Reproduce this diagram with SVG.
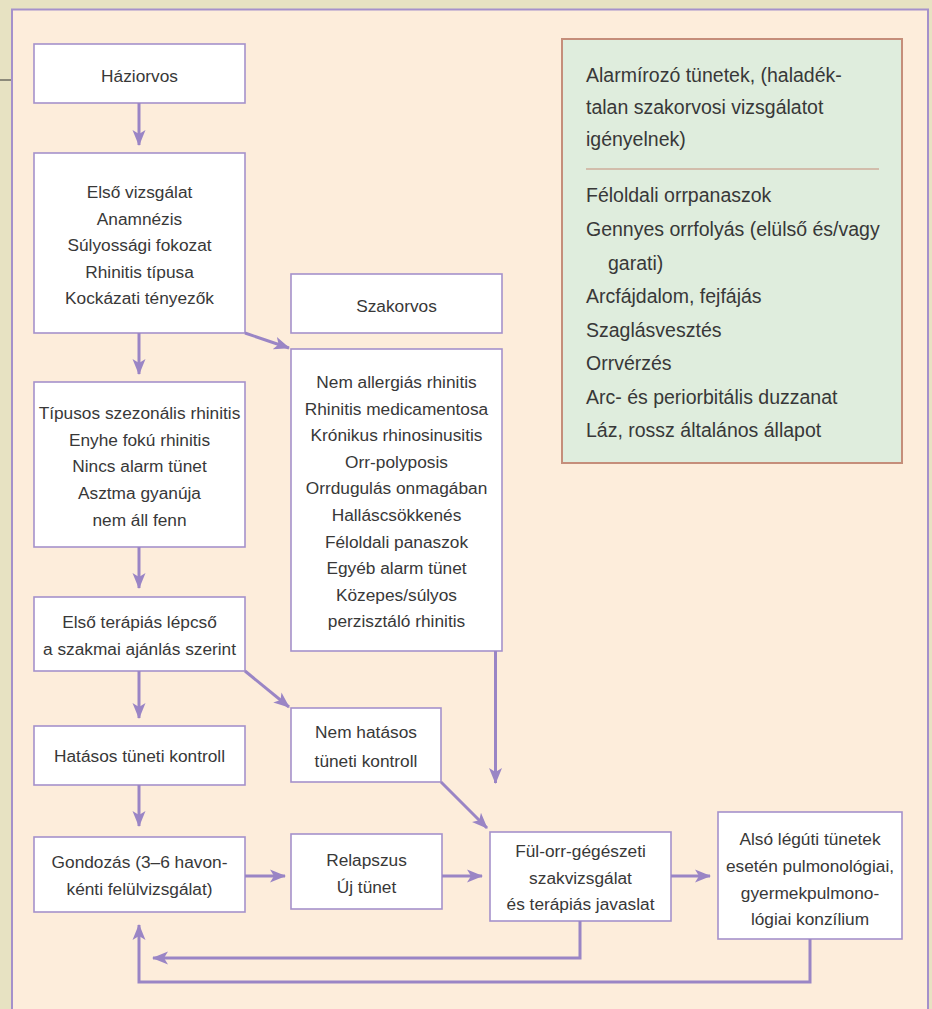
<svg xmlns="http://www.w3.org/2000/svg" width="932" height="1009" viewBox="0 0 932 1009">
<defs>
<style>
.bx{fill:#ffffff;stroke:#a591cb;stroke-width:1.6}
.t{font-family:"Liberation Sans",Arial,sans-serif;font-size:17.3px;fill:#383838;text-anchor:middle}
.g{font-family:"Liberation Sans",Arial,sans-serif;font-size:19.5px;fill:#383838}
.c{fill:none;stroke:#9a85c5;stroke-width:3;marker-end:url(#ah)}
</style>
<marker id="ah" markerUnits="userSpaceOnUse" markerWidth="16" markerHeight="14" viewBox="0 -7 16 14" refX="15" refY="0" orient="auto">
<path d="M0,-6.5 L16,0 L0,6.5 L4,0 z" fill="#9a85c5"/>
</marker>
</defs>
<rect x="0" y="0" width="932" height="1009" fill="#e7e2c2"/>
<line x1="0" y1="80" x2="12" y2="80" stroke="#333" stroke-width="1"/>
<rect x="12" y="9.5" width="916" height="1010" fill="#fdeddb" stroke="#a591cb" stroke-width="2"/>

<g id="alarm">
<rect x="562" y="39" width="340" height="424" fill="#dfeddd" stroke="#c58e7a" stroke-width="2"/>
<text class="g" x="586" y="82">Alarmírozó tünetek, (haladék-</text>
<text class="g" x="586" y="114">talan szakorvosi vizsgálatot</text>
<text class="g" x="586" y="146">igényelnek)</text>
<line x1="586" y1="169" x2="879" y2="169" stroke="#c58e7a" stroke-width="1.2"/>
<text class="g" x="586" y="202">Féloldali orrpanaszok</text>
<text class="g" x="586" y="236">Gennyes orrfolyás (elülső és/vagy</text>
<text class="g" x="608" y="269.5">garati)</text>
<text class="g" x="586" y="303">Arcfájdalom, fejfájás</text>
<text class="g" x="586" y="336.5">Szaglásvesztés</text>
<text class="g" x="586" y="370">Orrvérzés</text>
<text class="g" x="586" y="403.5">Arc- és periorbitális duzzanat</text>
<text class="g" x="586" y="437">Láz, rossz általános állapot</text>
</g>

<g id="haziorvos">
<rect class="bx" x="34" y="44" width="211" height="59"/>
<text class="t" x="139.5" y="82">Háziorvos</text>
</g>

<g id="elso-vizsgalat">
<rect class="bx" x="34" y="153" width="211" height="180"/>
<text class="t" x="139.5" y="198">Első vizsgálat</text>
<text class="t" x="139.5" y="224.5">Anamnézis</text>
<text class="t" x="139.5" y="251">Súlyossági fokozat</text>
<text class="t" x="139.5" y="277.5">Rhinitis típusa</text>
<text class="t" x="139.5" y="304">Kockázati tényezők</text>
</g>

<g id="szakorvos">
<rect class="bx" x="291" y="274" width="211" height="59"/>
<text class="t" x="396.5" y="312">Szakorvos</text>
</g>

<g id="szakorvos-lista">
<rect class="bx" x="291" y="349" width="211" height="302"/>
<text class="t" x="396.5" y="388">Nem allergiás rhinitis</text>
<text class="t" x="396.5" y="414.6">Rhinitis medicamentosa</text>
<text class="t" x="396.5" y="441.2">Krónikus rhinosinusitis</text>
<text class="t" x="396.5" y="467.8">Orr-polyposis</text>
<text class="t" x="396.5" y="494.4">Orrdugulás onmagában</text>
<text class="t" x="396.5" y="521">Halláscsökkenés</text>
<text class="t" x="396.5" y="547.6">Féloldali panaszok</text>
<text class="t" x="396.5" y="574.2">Egyéb alarm tünet</text>
<text class="t" x="396.5" y="600.8">Közepes/súlyos</text>
<text class="t" x="396.5" y="627.4">perzisztáló rhinitis</text>
</g>

<g id="tipusos">
<rect class="bx" x="34" y="382" width="211" height="165"/>
<text class="t" x="139.5" y="419">Típusos szezonális rhinitis</text>
<text class="t" x="139.5" y="445.7">Enyhe fokú rhinitis</text>
<text class="t" x="139.5" y="472.4">Nincs alarm tünet</text>
<text class="t" x="139.5" y="499.1">Asztma gyanúja</text>
<text class="t" x="139.5" y="525.8">nem áll fenn</text>
</g>

<g id="elso-terapias">
<rect class="bx" x="34" y="597" width="211" height="74"/>
<text class="t" x="139.5" y="628">Első terápiás lépcső</text>
<text class="t" x="139.5" y="655">a szakmai ajánlás szerint</text>
</g>

<g id="hatasos">
<rect class="bx" x="34" y="726" width="211" height="59"/>
<text class="t" x="139.5" y="762">Hatásos tüneti kontroll</text>
</g>

<g id="nem-hatasos">
<rect class="bx" x="291" y="708" width="150" height="74"/>
<text class="t" x="366" y="738">Nem hatásos</text>
<text class="t" x="366" y="767">tüneti kontroll</text>
</g>

<g id="gondozas">
<rect class="bx" x="34" y="837" width="211" height="75"/>
<text class="t" x="139.5" y="868">Gondozás (3–6 havon-</text>
<text class="t" x="139.5" y="895">kénti felülvizsgálat)</text>
</g>

<g id="relapszus">
<rect class="bx" x="291" y="834" width="151" height="75"/>
<text class="t" x="366.5" y="866">Relapszus</text>
<text class="t" x="366.5" y="893">Új tünet</text>
</g>

<g id="ful-orr">
<rect class="bx" x="490" y="832" width="181" height="89"/>
<text class="t" x="580.5" y="857">Fül-orr-gégészeti</text>
<text class="t" x="580.5" y="883.5">szakvizsgálat</text>
<text class="t" x="580.5" y="910">és terápiás javaslat</text>
</g>

<g id="also-leguti">
<rect class="bx" x="718" y="812" width="184" height="127"/>
<text class="t" x="810" y="845">Alsó légúti tünetek</text>
<text class="t" x="810" y="872">esetén pulmonológiai,</text>
<text class="t" x="810" y="899">gyermekpulmono-</text>
<text class="t" x="810" y="925">lógiai konzílium</text>
</g>

<g id="connectors">
<path class="c" d="M139,103 V145"/>
<path class="c" d="M139,333 V374"/>
<path class="c" d="M139,547 V588"/>
<path class="c" d="M139,671 V718"/>
<path class="c" d="M139,785 V826"/>
<path class="c" d="M245,333 L289,348"/>
<path class="c" d="M245,671 L289,707"/>
<path class="c" d="M495.5,651 V783"/>
<path class="c" d="M441,782 L487,828"/>
<path class="c" d="M245,876 H285"/>
<path class="c" d="M442,876 H482"/>
<path class="c" d="M671,876 H710"/>
<path class="c" d="M580,921 V958 H153"/>
<path class="c" d="M810,939 V982 H139 V925"/>
</g>
</svg>
